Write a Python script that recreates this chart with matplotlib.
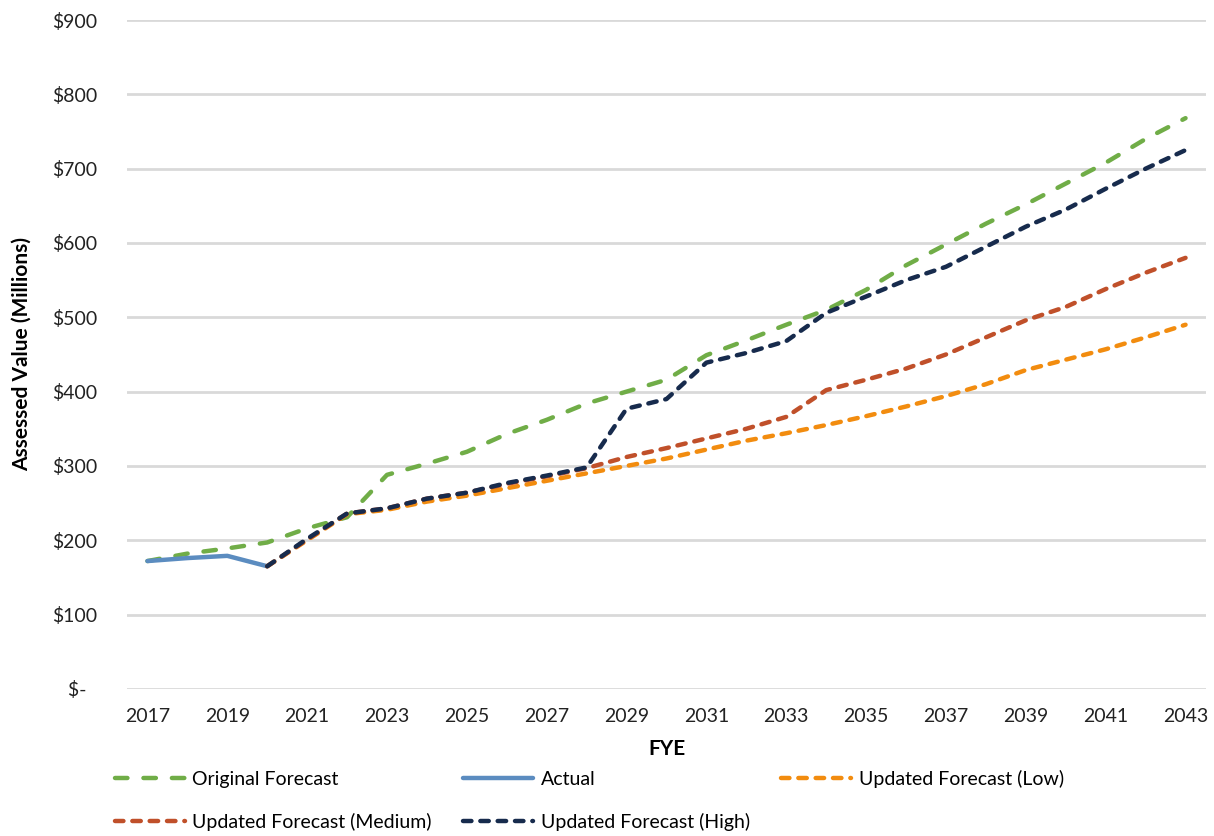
import matplotlib
matplotlib.use("Agg")
import matplotlib.pyplot as plt
import numpy as np

plt.rcParams['font.family'] = ['Lato', 'DejaVu Sans']

# data ($ millions)
years = np.arange(2017, 2044)
original = [172, 182, 189, 197, 216, 231, 288, 303, 319, 343, 362, 384, 400, 416,
            449, 469, 490, 510, 537, 570, 598, 626, 652, 680, 708, 740, 768]
actual_years = [2017, 2018, 2019, 2020]
actual = [172, 176, 179, 165]
fc_years = np.arange(2020, 2044)
low = [165, 200, 235, 241, 252, 260, 270, 280, 290, 300, 310, 322, 334, 344,
       355, 367, 380, 394, 410, 429, 443, 457, 473, 490]
medium = [165, 201, 236, 243, 256, 264, 276, 286, 297, 312, 324, 337, 350, 366,
          402, 416, 431, 450, 473, 496, 514, 538, 560, 580]
high = [165, 202, 236, 243, 256, 264, 277, 287, 298, 377, 390, 439, 452, 468,
        506, 528, 550, 568, 595, 622, 645, 673, 700, 725]
yticks = [0, 100, 200, 300, 400, 500, 600, 700, 800, 900]
ytick_labels = ['$-  ', '$100', '$200', '$300', '$400', '$500', '$600', '$700', '$800', '$900']
xticks = list(range(2017, 2044, 2))

fig = plt.figure(figsize=(12.14, 8.36), dpi=100)
ax = fig.add_axes([0.105, 0.176, 0.888, 0.8])

lw = 3.2
short = (1.9, 2.0)
l_orig, = ax.plot(years, original, color='#70AD47', lw=lw, dashes=(2.8, 3.6),
                  dash_capstyle='round', label='Original Forecast')
l_act, = ax.plot(actual_years, actual, color='#5B8CC0', lw=lw, solid_capstyle='round',
                 label='Actual')
l_low, = ax.plot(fc_years, low, color='#F28C0F', lw=lw, dashes=short,
                 dash_capstyle='round', label='Updated Forecast (Low)')
l_med, = ax.plot(fc_years, medium, color='#C0502A', lw=lw, dashes=short,
                 dash_capstyle='round', label='Updated Forecast (Medium)')
l_high, = ax.plot(fc_years, high, color='#172B4D', lw=lw, dashes=short,
                  dash_capstyle='round', label='Updated Forecast (High)')

ax.set_xlim(2016.5, 2043.5)
ax.set_ylim(0, 900)
ax.set_yticks(yticks)
ax.set_yticklabels(ytick_labels)
ax.set_xticks(xticks)
ax.grid(axis='y', color='#D9D9D9', lw=2)
ax.set_axisbelow(True)
for s in ax.spines.values():
    s.set_visible(False)
ax.tick_params(length=0, labelsize=14, colors='#222222')
ax.tick_params(axis='x', pad=14)
ax.tick_params(axis='y', pad=22)

ax.set_xlabel('FYE', fontsize=15, fontweight='bold', labelpad=10)
ax.set_ylabel('Assessed Value (Millions)', fontsize=15, fontweight='bold', labelpad=14)

# legend fills column by column, so order handles to read row by row
order = [l_orig, l_med, l_act, l_high, l_low]
fig.legend(handles=order, loc='upper left', bbox_to_anchor=(0.08, 0.1), ncol=3,
           frameon=False, fontsize=14, handlelength=3.6, handletextpad=0.4,
           columnspacing=1.6, labelspacing=1.3)

fig.savefig('out.png', dpi=100)
